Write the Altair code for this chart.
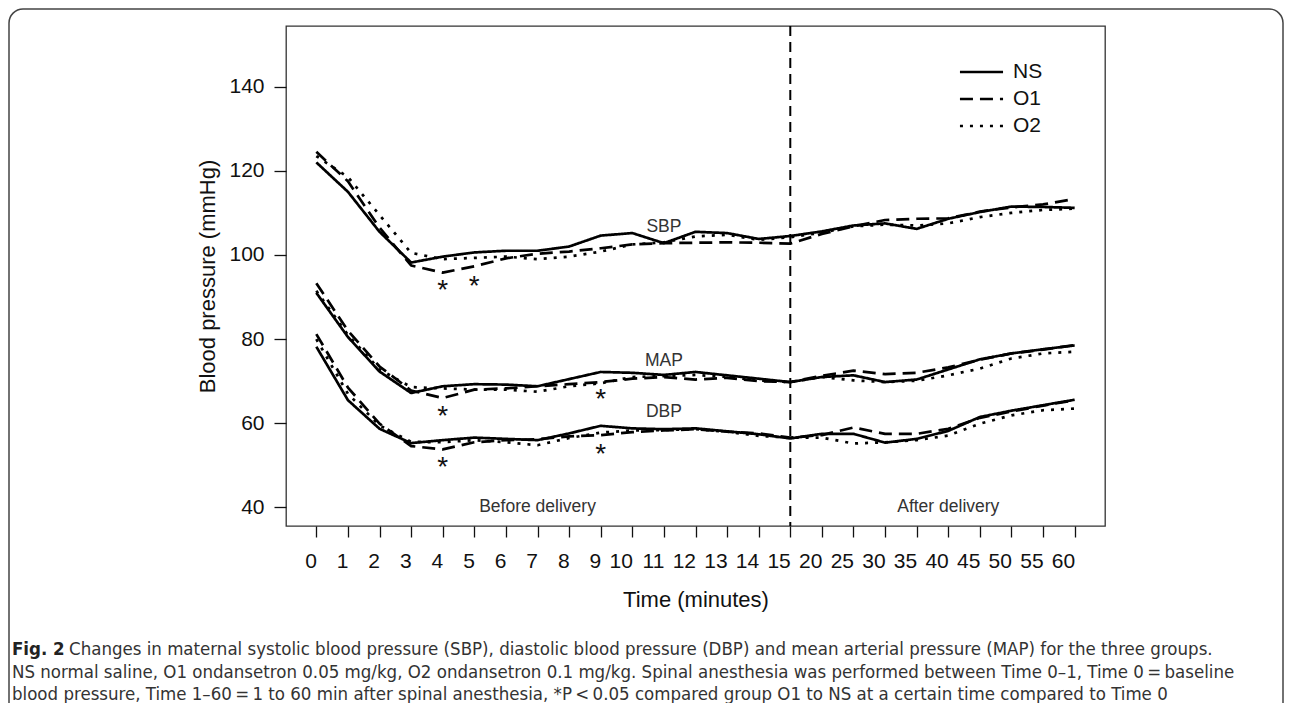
import altair as alt
import pandas as pd

times = ["0", "1", "2", "3", "4", "5", "6", "7", "8", "9", "10", "11", "12", "13", "14", "15",
         "20", "25", "30", "35", "40", "45", "50", "55", "60"]

sbp_ns = [122, 115, 105.5, 98.2, 99.6, 100.6, 101, 101, 102, 104.6, 105.2, 102.8, 105.5, 105.2, 103.8, 104.5,
          105.6, 107, 107.5, 106.2, 108.6, 110.2, 111.5, 111.4, 111.2]
sbp_o1 = [124.5, 117.5, 106.5, 97.5, 95.8, 97.3, 99.2, 100.3, 100.8, 101.6, 102.5, 102.8, 102.9, 103, 102.9, 102.7,
          105, 106.8, 108.3, 108.6, 108.7, 110.3, 111.3, 112, 113.3]
sbp_o2 = [123.5, 118.5, 109.5, 100.5, 99, 99.3, 99.6, 99, 99.6, 100.8, 102.5, 103, 104.4, 104.8, 103.6, 104.2,
          105.3, 106.8, 107.2, 107, 107.5, 109, 110, 110.7, 111]

map_ns = [91, 80.5, 72.3, 67.2, 68.8, 69.3, 69.2, 68.8, 70.5, 72.2, 72, 71.5, 72.2, 71.4, 70.6, 69.8,
          71, 71.4, 69.8, 70.4, 72.8, 75.2, 76.6, 77.6, 78.5]
map_o1 = [93.3, 82, 73.5, 67.8, 66, 68, 68.3, 68.8, 69.3, 69.8, 70.6, 71, 70.4, 70.8, 70, 69.8,
          71.3, 72.5, 71.7, 72, 73.3, 75.1, 76.6, 77.5, 78.6]
map_o2 = [91.5, 81, 72.8, 68.6, 68.3, 68, 68, 67.5, 68.8, 69.5, 71, 71.2, 71.5, 71, 70.2, 69.8,
          71, 70.2, 69.8, 70.1, 71.4, 73, 75.4, 76.6, 77]

dbp_ns = [78.2, 65.5, 58.7, 55.3, 56, 56.6, 56.3, 56, 57.6, 59.4, 58.8, 58.6, 58.8, 58.1, 57.4, 56.4,
          57.5, 57.5, 55.4, 56.3, 58.2, 61.5, 63, 64.3, 65.6]
dbp_o1 = [81.2, 68.5, 59.9, 54.6, 53.8, 55.5, 56, 56.2, 56.9, 57.2, 57.9, 58.3, 58.6, 58, 57.6, 56.6,
          57.2, 59, 57.5, 57.5, 58.7, 61.3, 62.8, 64.2, 65.5]
dbp_o2 = [80, 67, 59.5, 55.6, 55.5, 56, 55.5, 54.8, 56.5, 57.8, 58.3, 58.4, 58.6, 58, 57, 56.6,
          56.6, 55.2, 55.5, 56, 57.1, 59.9, 61.9, 63.1, 63.5]

groups = ["NS", "O1", "O2"]
dashes = [[1, 0], [13, 7], [3, 7]]

series = {
    "SBP": [sbp_ns, sbp_o1, sbp_o2],
    "MAP": [map_ns, map_o1, map_o2],
    "DBP": [dbp_ns, dbp_o1, dbp_o2],
}

label_text = ["SBP", "MAP", "DBP", "Before delivery", "After delivery"]
label_time = ["11", "11", "11", "7", "40"]
label_value = [106.6, 74.8, 62.7, 40, 40]

star_time = ["4", "5", "4", "9", "4", "9"]
star_value = [92.6, 93.6, 62.7, 66.7, 50.6, 53.6]

caption_1 = "Changes in maternal systolic blood pressure (SBP), diastolic blood pressure (DBP) and mean arterial pressure (MAP) for the three groups."
caption_2 = "NS normal saline, O1 ondansetron 0.05 mg/kg, O2 ondansetron 0.1 mg/kg. Spinal anesthesia was performed between Time 0\u20131, Time 0\u2009=\u2009baseline"
caption_3 = "blood pressure, Time 1\u201360\u2009=\u20091 to 60 min after spinal anesthesia, *P\u2009<\u20090.05 compared group O1 to NS at a certain time compared to Time 0"

rows = []
for m, lists in series.items():
    for g, vals in zip(groups, lists):
        for i, (t, v) in enumerate(zip(times, vals)):
            rows.append({"idx": i, "time": t, "measure": m, "group": g, "key": m + g, "value": v})
df = pd.DataFrame(rows)

labels_df = pd.DataFrame({"label": label_text, "time": label_time, "value": label_value})
stars_df = pd.DataFrame({"time": star_time, "value": star_value})
rule_df = pd.DataFrame({"time": ["15"]})
one = pd.DataFrame({"a": [0]})

FONT = "Liberation Sans, Arial, sans-serif"
CAPFONT = "Liberation Sans Narrow, DejaVu Sans Condensed, Arial Narrow, sans-serif"
W, H = 819, 500
PL, PT = 278, 18
CAPSIZE = 18.5

xscale = alt.Scale(type="point", padding=0.96)
yscale = alt.Scale(domain=[35.6, 154.4], nice=False, zero=False)

x_main = alt.X("time:O", sort=times, scale=xscale,
               axis=alt.Axis(title="Time (minutes)", labelAngle=0, domain=False, grid=False,
                             tickSize=11, tickColor="#111", tickWidth=1.3, labelFontSize=21,
                             labelFont=FONT, labelColor="#111", labelPadding=24,
                             titleFont=FONT, titleFontSize=22, titleFontWeight="normal",
                             titleColor="#111", titlePadding=18))
y_main = alt.Y("value:Q", scale=yscale,
               axis=alt.Axis(title="Blood pressure (mmHg)", values=[40, 60, 80, 100, 120, 140],
                             domain=False, grid=False, tickSize=12, tickColor="#111", tickWidth=1.3,
                             labelFontSize=21, labelFont=FONT, labelColor="#111", labelPadding=10,
                             titleFont=FONT, titleFontSize=22, titleFontWeight="normal",
                             titleColor="#111", titlePadding=9))

lines = alt.Chart(df).mark_line(color="black", strokeWidth=2.7, strokeJoin="round").encode(
    x=x_main,
    y=y_main,
    detail="key:N",
    order=alt.Order("idx:Q"),
    strokeDash=alt.StrokeDash("group:N", scale=alt.Scale(domain=groups, range=dashes),
                              legend=alt.Legend(title=None, orient="none", legendX=685, legendY=35.5,
                                                symbolType="M-4,0H4", symbolSize=116,
                                                symbolStrokeWidth=2.7, symbolStrokeColor="black",
                                                symbolFillColor="transparent",
                                                labelFontSize=21, labelFont=FONT, labelColor="#111",
                                                labelOffset=21, rowPadding=5)),
)

vrule = alt.Chart(rule_df).mark_rule(color="black", strokeWidth=2, strokeDash=[10, 6]).encode(
    x=alt.X("time:O", sort=times, scale=xscale)
)

labels = alt.Chart(labels_df).mark_text(font=FONT, fontSize=17.5, color="#333", baseline="middle").encode(
    x=alt.X("time:O", sort=times, scale=xscale),
    y=alt.Y("value:Q", scale=yscale),
    text="label:N",
)

stars = alt.Chart(stars_df).mark_text(text="*", font=FONT, fontSize=28, color="#111",
                                      baseline="alphabetic", dy=13).encode(
    x=alt.X("time:O", sort=times, scale=xscale),
    y=alt.Y("value:Q", scale=yscale),
)

border = alt.Chart(one).mark_rect(filled=False, stroke="#444", strokeWidth=1.5, cornerRadius=14).encode(
    x=alt.value(-PL + 1), x2=alt.value(1275 - PL), y=alt.value(-PT + 1), y2=alt.value(740)
)

capy = [649 - 26, 672 - 26, 694 - 26]
cap_fig = alt.Chart(one).mark_text(text="Fig. 2", font=CAPFONT, fontSize=CAPSIZE, fontWeight="bold",
                                   color="#222", align="left", baseline="middle").encode(
    x=alt.value(12 - 286), y=alt.value(capy[0]))
cap1 = alt.Chart(one).mark_text(text=caption_1, font=CAPFONT, fontSize=CAPSIZE, color="#333",
                                align="left", baseline="middle").encode(
    x=alt.value(12 - 286 + 57), y=alt.value(capy[0]))
cap2 = alt.Chart(one).mark_text(text=caption_2, font=CAPFONT, fontSize=CAPSIZE, color="#333",
                                align="left", baseline="middle").encode(
    x=alt.value(12 - 286), y=alt.value(capy[1]))
cap3 = alt.Chart(one).mark_text(text=caption_3, font=CAPFONT, fontSize=CAPSIZE, color="#333",
                                align="left", baseline="middle").encode(
    x=alt.value(12 - 286), y=alt.value(capy[2]))

chart = alt.layer(border, vrule, lines, labels, stars, cap_fig, cap1, cap2, cap3).properties(
    width=W, height=H,
    autosize="none",
    padding={"left": PL, "top": PT, "right": 1276 - PL - W, "bottom": 695 - PT - H},
    background="white",
).configure_view(stroke="#333", strokeWidth=1.3).configure_legend(
    symbolStrokeColor="black"
)

chart.save("out.html", embed_options={"renderer": "svg", "actions": False})
